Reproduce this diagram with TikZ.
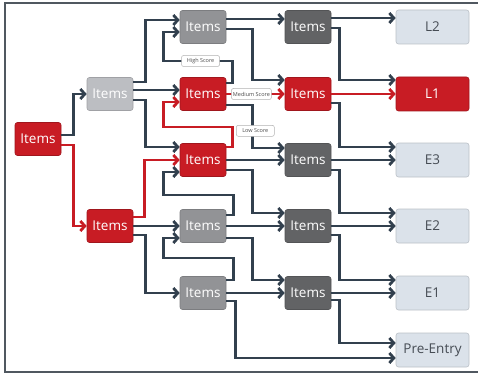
\documentclass[tikz,border=0pt]{standalone}
\usepackage{fontspec}
\setmainfont{Open Sans}
\usetikzlibrary{arrows.meta}
\definecolor{linedk}{RGB}{50,64,78}
\definecolor{itemred}{RGB}{200,28,36}
\definecolor{itemlt}{RGB}{188,190,194}
\definecolor{itemmd}{RGB}{146,147,150}
\definecolor{itemdk}{RGB}{98,99,101}
\definecolor{levelbg}{RGB}{219,226,234}
\definecolor{levelfg}{RGB}{70,76,84}
\definecolor{framecol}{RGB}{80,88,96}
\tikzset{
  box/.style={rounded corners=2.5pt, minimum width=46pt, minimum height=33pt,
    inner sep=0pt, line width=0.6pt, text=white, font=\fontsize{13.5}{13.5}\selectfont},
  redbox/.style={box, fill=itemred, draw=itemred!80!black},
  ltbox/.style={box, fill=itemlt, draw=itemlt!85!black},
  mdbox/.style={box, fill=itemmd, draw=itemmd!85!black},
  dkbox/.style={box, fill=itemdk, draw=itemdk!85!black},
  lvlbox/.style={box, minimum width=73pt, minimum height=34pt, fill=levelbg,
    draw=levelbg!85!black, text=levelfg},
  link/.style={draw=linedk, line width=2.8pt, -{Straight Barb[length=4.5pt,width=10pt]}},
  redlink/.style={link, draw=itemred},
  score/.style={draw=black!30, fill=white, rounded corners=2pt, line width=0.5pt,
    inner sep=1.5pt, minimum width=38pt, minimum height=11pt, text=black!70,
    font=\fontsize{5.5}{5.5}\selectfont}
}
\begin{document}
\begin{tikzpicture}[x=1pt, y=-1pt]
\useasboundingbox (0,0) rectangle (478,374);
\draw[framecol, line width=1.2pt] (482,3) -- (5,3) -- (5,372) -- (482,372);
% columns of items
\node[redbox] (root) at (38,139) {Items};
\node[ltbox] (c2t) at (110,94) {Items};
\node[redbox] (c2b) at (110,226) {Items};
\node[mdbox] (c3a) at (203,27) {Items};
\node[redbox] (c3b) at (203,94) {Items};
\node[redbox] (c3c) at (203,160) {Items};
\node[mdbox] (c3d) at (203,226) {Items};
\node[mdbox] (c3e) at (203,293) {Items};
\node[dkbox] (c4a) at (308,27) {Items};
\node[redbox] (c4b) at (308,94) {Items};
\node[dkbox] (c4c) at (308,160) {Items};
\node[dkbox] (c4d) at (308,226) {Items};
\node[dkbox] (c4e) at (308,293) {Items};
% levels
\node[lvlbox] (l2) at (432.5,27) {L2};
\node[redbox, minimum width=73pt, minimum height=34pt] (l1) at (432.5,94) {L1};
\node[lvlbox] (e3) at (432.5,160) {E3};
\node[lvlbox] (e2) at (432.5,226) {E2};
\node[lvlbox] (e1) at (432.5,293) {E1};
\node[lvlbox] (pe) at (432.5,350) {Pre-Entry};
% first split
\draw[link] ([yshift=4pt]root.east) -- ++(12,0) |- (c2t.west);
\draw[redlink] ([yshift=-6pt]root.east) -- ++(12,0) |- (c2b.west);
\draw[link] ([yshift=12pt]c2t.east) -- ++(12,0) |- ([yshift=7pt]c3a.west);
\draw[link] ([yshift=4pt]c2t.east) -- ([yshift=4pt]c3b.west);
\draw[link] ([yshift=-6pt]c2t.east) -- ++(12,0) |- ([yshift=13pt]c3c.west);
\draw[redlink] ([yshift=9pt]c2b.east) -- ++(11,0) |- (c3c.west);
\draw[link] (c2b.east) -- (c3d.west);
\draw[link] ([yshift=-9pt]c2b.east) -- ++(12,0) |- (c3e.west);
% loops back up
\draw[link] ([yshift=11pt]c3b.east) -- ++(6,0) -- ++(0,-22)
  -- node[score, pos=0.46] {High Score} ++(-69,0) |- ([yshift=-5pt]c3a.west);
\draw[redlink] ([yshift=13pt]c3c.east) -- ++(6,0) -- ++(0,-20) -- ++(-69,0)
  |- ([yshift=-8pt]c3b.west);
\draw[link] ([yshift=11pt]c3d.east) -- ++(7,0) -- ++(0,-20) -- ++(-70,0)
  |- ([yshift=-12pt]c3c.west);
\draw[link] ([yshift=13pt]c3e.east) -- ++(7,0) -- ++(0,-22) -- ++(-70,0)
  |- ([yshift=-12pt]c3d.west);
% third to fourth column
\draw[link] ([yshift=8pt]c3a.east) -- ([yshift=8pt]c4a.west);
\draw[link] ([yshift=-2pt]c3a.east) -- ++(26,0) |- ([yshift=14pt]c4b.west);
\draw[redlink] (c3b.east) -- node[score, pos=0.43] {Medium Score} (c4b.west);
\draw[link] ([yshift=-11pt]c3b.east) -- ++(26,0)
  |- node[score, pos=0.3, xshift=3pt] {Low Score} ([yshift=12pt]c4c.west);
\draw[link] (c3c.east) -- (c4c.west);
\draw[link] ([yshift=-10pt]c3c.east) -- ++(26,0) |- ([yshift=13pt]c4d.west);
\draw[link] (c3d.east) -- (c4d.west);
\draw[link] ([yshift=-12pt]c3d.east) -- ++(26,0) |- ([yshift=13pt]c4e.west);
\draw[link] (c3e.east) -- (c4e.west);
\draw[link] ([yshift=-8pt]c3e.east) -- ++(9,0) |- ([yshift=-8pt]pe.west);
% fourth column to levels
\draw[link] ([yshift=9pt]c4a.east) -- ([yshift=9pt]l2.west);
\draw[link] ([yshift=-1pt]c4a.east) -- ++(8,0) |- ([yshift=14pt]l1.west);
\draw[redlink] (c4b.east) -- (l1.west);
\draw[link] ([yshift=-9pt]c4b.east) -- ++(8,0) |- ([yshift=13pt]e3.west);
\draw[link] (c4c.east) -- (e3.west);
\draw[link] ([yshift=-10pt]c4c.east) -- ++(8,0) |- ([yshift=13pt]e2.west);
\draw[link] (c4d.east) -- (e2.west);
\draw[link] ([yshift=-9pt]c4d.east) -- ++(8,0) |- ([yshift=13pt]e1.west);
\draw[link] (c4e.east) -- (e1.west);
\draw[link] ([yshift=-7pt]c4e.east) -- ++(8,0) |- ([yshift=7pt]pe.west);
\end{tikzpicture}
\end{document}
